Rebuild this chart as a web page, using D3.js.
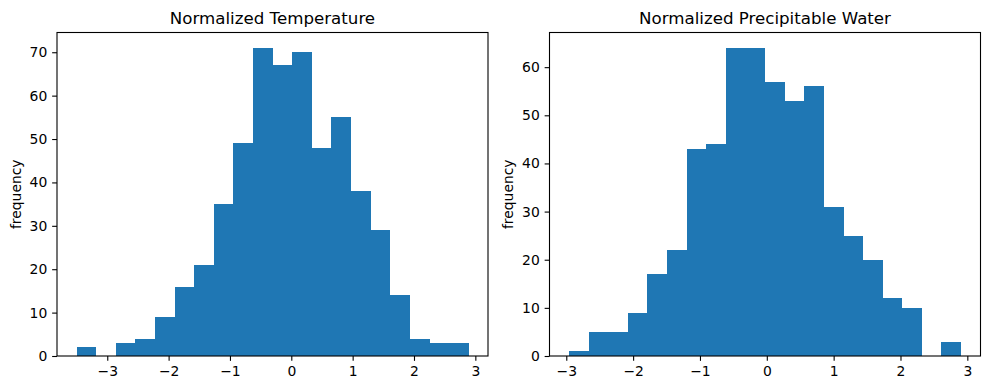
<!DOCTYPE html>
<html><head><meta charset="utf-8">
<script src="https://cdn.jsdelivr.net/npm/d3@7"></script>
<style>body{margin:0;background:#fff}svg{display:block}text{font-family:"DejaVu Sans",sans-serif;fill:#000}</style>
</head><body><svg id="c" width="990" height="390"></svg>
<script>
// Normalized Temperature histogram: 20 bins
const tempStart = -3.50, tempEnd = 2.887;
const tempCounts = [2,0,3,4,9,16,21,35,49,71,67,70,48,55,38,29,14,4,3,3];
// Normalized Precipitable Water histogram: 20 bins
const pwStart = -2.958, pwEnd = 2.904;
const pwCounts = [1,5,5,9,17,22,43,44,64,64,57,53,56,31,25,20,12,10,0,3];
const xTicks = [-3,-2,-1,0,1,2,3];
const titles = ["Normalized Temperature","Normalized Precipitable Water"];
const yLabel = "frequency";

(function(){
const svg = d3.select("#c");
const panels = [
  {title:titles[0], start:tempStart, end:tempEnd, counts:tempCounts, left:57, right:488, yTicks:d3.range(0,71,10)},
  {title:titles[1], start:pwStart, end:pwEnd, counts:pwCounts, left:549.5, right:980.5, yTicks:d3.range(0,61,10)}
];
const plotTop = 32.5, plotBottom = 356;
const tickFont = "13.9px", titleFont = "16.67px";

panels.forEach(p => {
  const n = p.counts.length, w = (p.end - p.start)/n;
  const edges = d3.range(n+1).map(i => p.start + i*w);
  const span = p.end - p.start;
  const x = d3.scaleLinear().domain([p.start - 0.05*span, p.end + 0.05*span]).range([p.left, p.right]);
  const ymax = d3.max(p.counts)*1.05;
  const y = d3.scaleLinear().domain([0, ymax]).range([plotBottom, plotTop]);
  const g = svg.append("g");
  g.selectAll("rect").data(p.counts).join("rect")
    .attr("x", (d,i) => x(edges[i]))
    .attr("width", (d,i) => x(edges[i+1]) - x(edges[i]) + 0.3)
    .attr("y", d => y(d))
    .attr("height", d => y(0) - y(d))
    .attr("fill", "#1f77b4")
    .attr("shape-rendering","crispEdges");
  g.append("rect").attr("x", p.left).attr("y", plotTop).attr("width", p.right-p.left).attr("height", plotBottom-plotTop)
    .attr("fill","none").attr("stroke","#000").attr("stroke-width",1.1);
  const xa = g.append("g").attr("transform",`translate(0,${plotBottom})`)
    .call(d3.axisBottom(x).tickValues(xTicks).tickSize(4.86).tickPadding(4.86).tickFormat(d => d < 0 ? "\u2212"+Math.abs(d) : d));
  const ya = g.append("g").attr("transform",`translate(${p.left},0)`)
    .call(d3.axisLeft(y).tickValues(p.yTicks).tickSize(4.86).tickPadding(4.86));
  [xa, ya].forEach(a => {
    a.select(".domain").remove();
    a.selectAll(".tick line").attr("stroke","#000").attr("stroke-width",1.1);
    a.selectAll("text").style("font-family","DejaVu Sans").style("font-size",tickFont).attr("fill","#000");
  });
  g.append("text").attr("x",(p.left+p.right)/2).attr("y",plotTop-8.3).attr("text-anchor","middle")
    .style("font-size",titleFont).text(p.title);
  g.append("text").attr("transform",`translate(${p.left-41},${(plotTop+plotBottom)/2}) rotate(-90)`)
    .attr("text-anchor","middle").attr("dy","0.35em").style("font-size",tickFont).text(yLabel);
});
})();
</script></body></html>
